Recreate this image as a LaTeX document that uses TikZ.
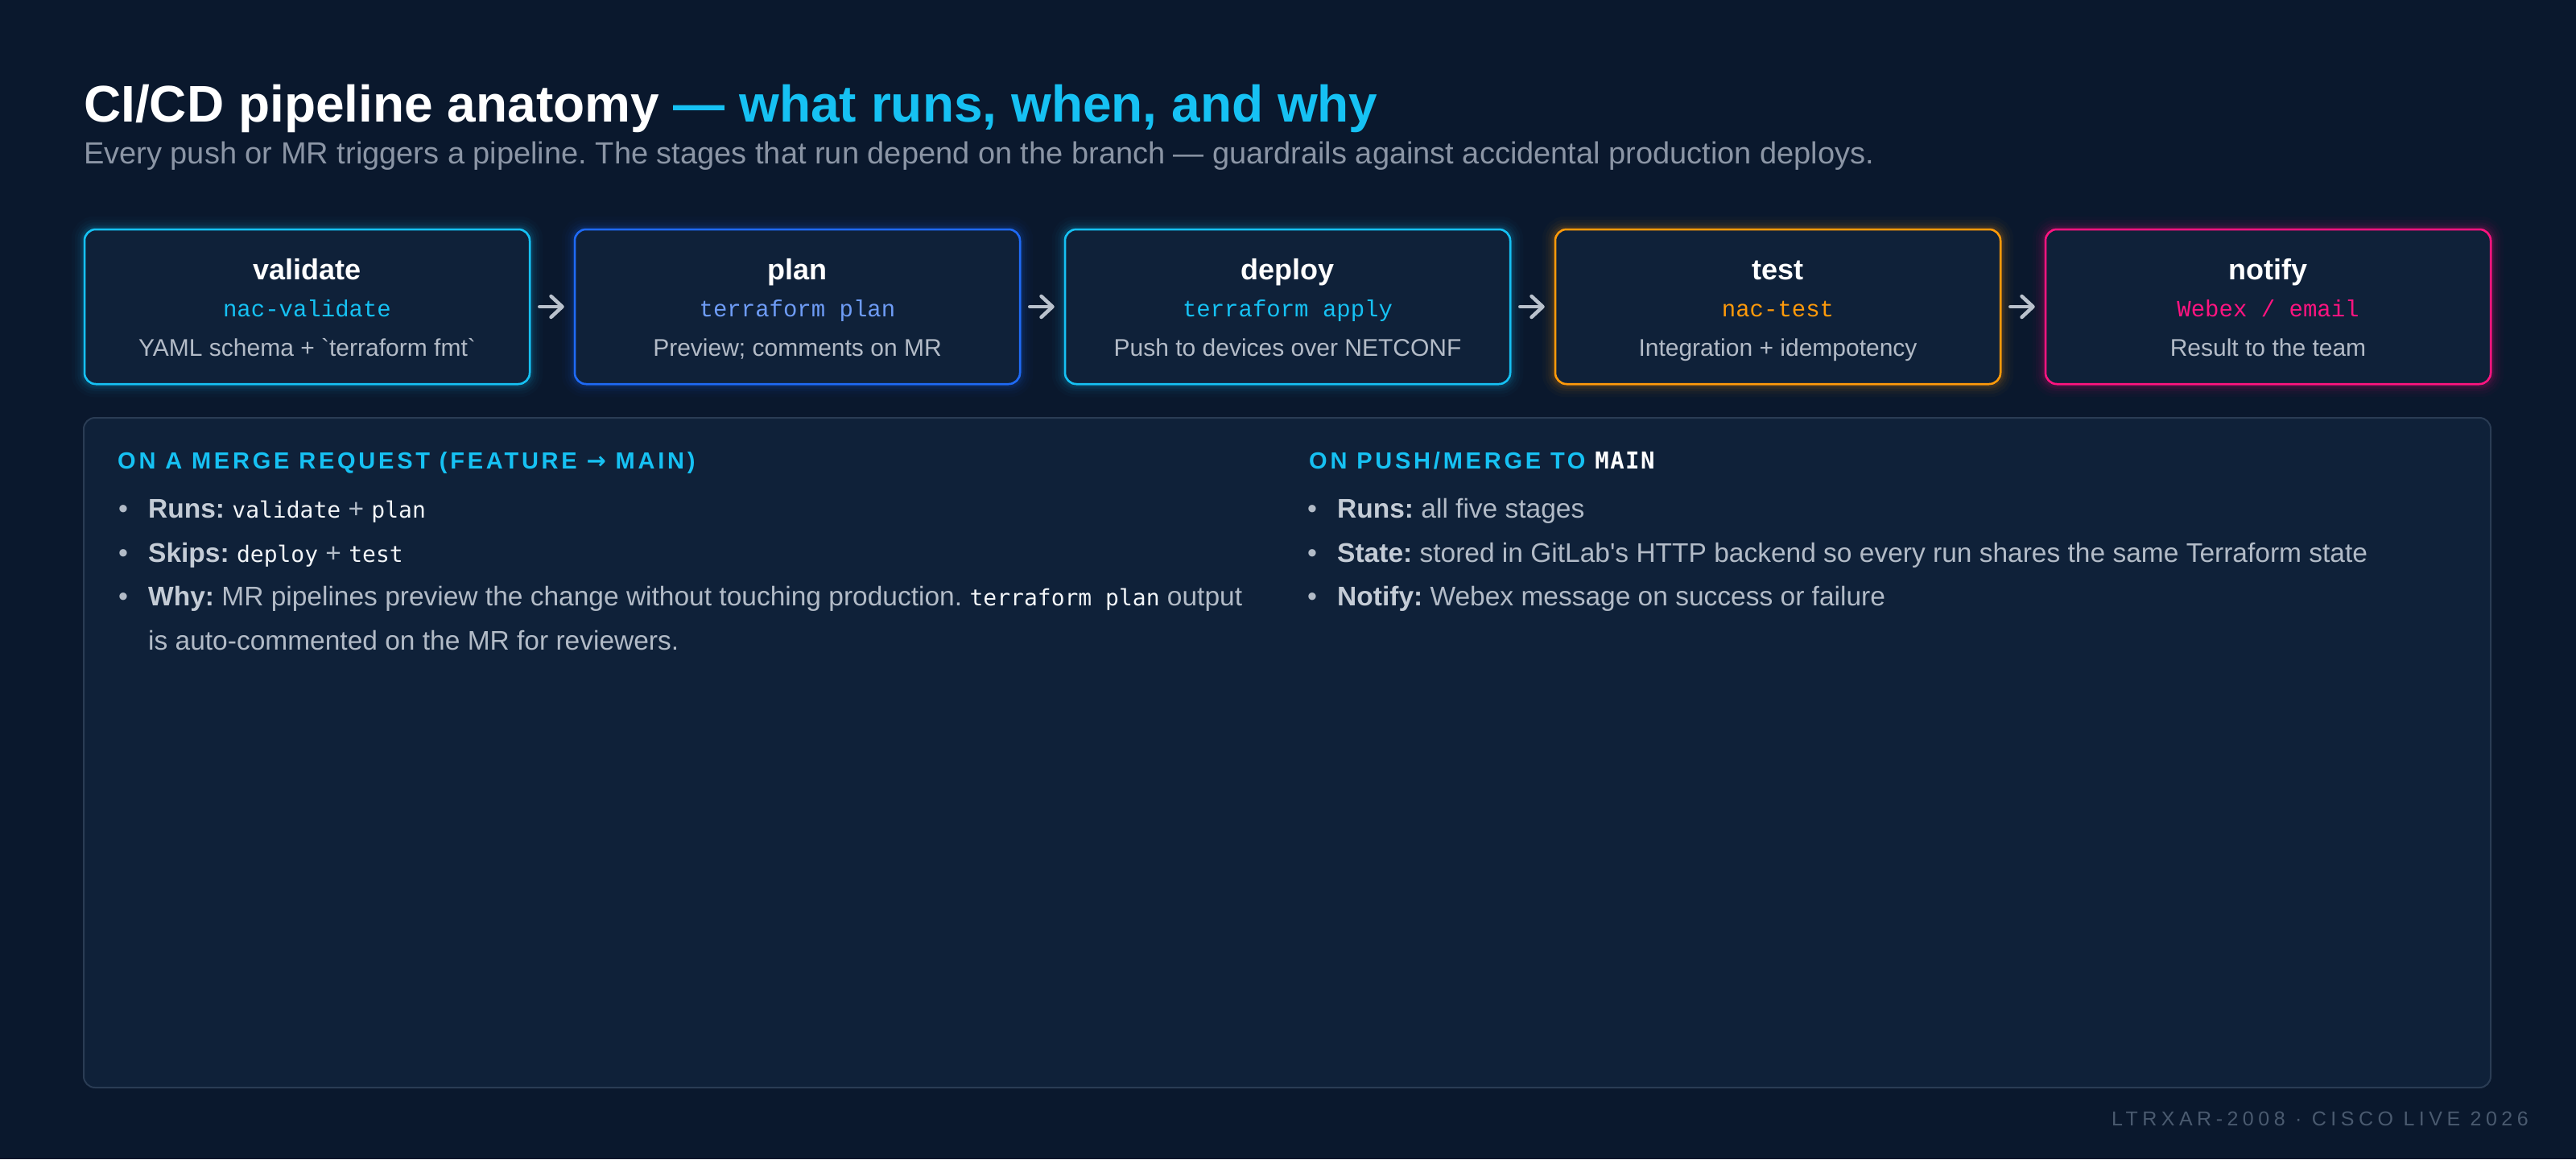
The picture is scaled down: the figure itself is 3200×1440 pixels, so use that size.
\documentclass[tikz,border=0pt]{standalone}
\usepackage{fontspec}
\setmainfont{Liberation Sans}[Ligatures=TeXOff]
\newfontfamily\boxmono{Liberation Mono}[Ligatures=TeXOff]
\newfontfamily\bodymono{DejaVu Sans Mono}[Ligatures=TeXOff]
\newfontfamily\headfont{Liberation Sans}[LetterSpace=13,Ligatures=TeXOff]
\newfontfamily\headmono{DejaVu Sans Mono}[LetterSpace=5,Ligatures=TeXOff]
\newfontfamily\arrowfont{DejaVu Sans}
\newfontfamily\footfont{Liberation Sans}[LetterSpace=22,Ligatures=TeXOff]
\usetikzlibrary{arrows.meta}
\frenchspacing

\definecolor{bg}{HTML}{0A182D}
\definecolor{card}{HTML}{0F2139}
\definecolor{panelline}{HTML}{2A3C54}
\definecolor{cyanA}{HTML}{16C1F3}
\definecolor{blueA}{HTML}{1F6AF5}
\definecolor{blueB}{HTML}{6E9CF6}
\definecolor{orangeA}{HTML}{FF9A0A}
\definecolor{pinkA}{HTML}{FF1480}
\definecolor{subgray}{HTML}{8B95A5}
\definecolor{descgray}{HTML}{B3BBC7}
\definecolor{bodygray}{HTML}{B2BBC7}
\definecolor{labelgray}{HTML}{C4CCD6}
\definecolor{codewhite}{HTML}{F2F5F8}
\definecolor{arrowgray}{HTML}{B9C1CC}
\definecolor{footgray}{HTML}{4A5A6F}

% inline code inside the bullet lists
\newcommand{\bcode}[1]{{\bodymono\fontsize{28}{55}\selectfont\color{codewhite}#1}}
\newcommand{\blabel}[1]{{\bfseries\color{labelgray}#1}}

\tikzset{
  stagebox/.style={draw=#1, line width=2.5pt, fill=card, rounded corners=14pt,
    minimum width=553pt, minimum height=192pt, inner sep=0pt},
  stagetitle/.style={anchor=base, text=white, inner sep=0pt,
    font=\bfseries\fontsize{36}{40}\selectfont},
  stagecode/.style={anchor=base, text=#1, inner sep=0pt,
    font=\boxmono\fontsize{29}{34}\selectfont},
  stagedesc/.style={anchor=base, text=descgray, inner sep=0pt,
    font=\fontsize{30}{34}\selectfont},
  flow/.style={draw=arrowgray, line width=4.5pt, line cap=round,
    -{Straight Barb[length=14pt,width=26pt,round]},
    shorten <=11pt, shorten >=12pt},
  heading/.style={anchor=base west, inner sep=0pt, text=cyanA,
    font=\headfont\bfseries\fontsize{29}{34}\selectfont},
  bodyline/.style={anchor=base west, inner sep=0pt, text=bodygray,
    font=\fontsize{33.5}{55}\selectfont},
  bulletdot/.style={anchor=base, inner sep=0pt, text=bodygray,
    font=\fontsize{34}{55}\selectfont},
}

% soft coloured halo behind a stage card
\newcommand{\halo}[2]{%
  \foreach \w/\o in {30/0.025,22/0.035,15/0.045,9/0.06,5/0.07}{
    \draw[#2, line width=\w pt, opacity=\o, rounded corners=14pt]
      (#1.south west) rectangle (#1.north east);
  }%
}

\begin{document}
\begin{tikzpicture}[x=1pt, y=-1pt]
  \useasboundingbox (0,0) rectangle (3200,1440);
  \fill[bg] (0,0) rectangle (3200,1440);

  % heading
  \node[anchor=base west, inner sep=0pt, text=white,
        font=\bfseries\fontsize{64}{70}\selectfont] (title) at (104,151)
    {CI/CD pipeline anatomy \textcolor{cyanA}{— what runs, when, and why}};
  \node[anchor=base west, inner sep=0pt, text=subgray,
        font=\fontsize{38}{44}\selectfont] (subtitle) at (104,203)
    {Every push or MR triggers a pipeline. The stages that run depend on the branch — guardrails against accidental production deploys.};

  % pipeline stages
  \coordinate (p1) at (381.5,381);
  \coordinate (p2) at (990.5,381);
  \coordinate (p3) at (1599.5,381);
  \coordinate (p4) at (2208.5,381);
  \coordinate (p5) at (2817.5,381);

  \node[stagebox=cyanA]   (s1) at (p1) {};
  \node[stagebox=blueA]   (s2) at (p2) {};
  \node[stagebox=cyanA]   (s3) at (p3) {};
  \node[stagebox=orangeA] (s4) at (p4) {};
  \node[stagebox=pinkA]   (s5) at (p5) {};

  \halo{s1}{cyanA}
  \halo{s2}{blueA}
  \halo{s3}{cyanA}
  \halo{s4}{orangeA}
  \halo{s5}{pinkA}

  % cards again on top of their halos
  \node[stagebox=cyanA]   at (p1) {};
  \node[stagebox=blueA]   at (p2) {};
  \node[stagebox=cyanA]   at (p3) {};
  \node[stagebox=orangeA] at (p4) {};
  \node[stagebox=pinkA]   at (p5) {};

  \node[stagetitle] (t1) at (381.5,347)  {validate};
  \node[stagetitle] (t2) at (990.5,347)  {plan};
  \node[stagetitle] (t3) at (1599.5,347) {deploy};
  \node[stagetitle] (t4) at (2208.5,347) {test};
  \node[stagetitle] (t5) at (2817.5,347) {notify};

  \node[stagecode=cyanA]   (c1) at (381.5,393)  {nac-validate};
  \node[stagecode=blueB]   (c2) at (990.5,393)  {terraform plan};
  \node[stagecode=cyanA]   (c3) at (1599.5,393) {terraform apply};
  \node[stagecode=orangeA] (c4) at (2208.5,393) {nac-test};
  \node[stagecode=pinkA]   (c5) at (2817.5,393) {Webex / email};

  \node[stagedesc] (d1) at (381.5,442)  {YAML schema + `terraform fmt`};
  \node[stagedesc] (d2) at (990.5,442)  {Preview; comments on MR};
  \node[stagedesc] (d3) at (1599.5,442) {Push to devices over NETCONF};
  \node[stagedesc] (d4) at (2208.5,442) {Integration + idempotency};
  \node[stagedesc] (d5) at (2817.5,442) {Result to the team};

  \draw[flow] (s1.east) -- (s2.west);
  \draw[flow] (s2.east) -- (s3.west);
  \draw[flow] (s3.east) -- (s4.west);
  \draw[flow] (s4.east) -- (s5.west);

  % branch rules panel
  \node[draw=panelline, line width=2pt, fill=card, rounded corners=14pt,
        minimum width=2990pt, minimum height=832pt, inner sep=0pt]
    (panel) at (1599,935) {};

  % merge request column
  \node[heading] (hmr) at (146,582)
    {ON A MERGE REQUEST (FEATURE {\arrowfont\bfseries →} MAIN)};
  \node[bulletdot] (b1) at (153,643) {•};
  \node[bulletdot] (b2) at (153,698) {•};
  \node[bulletdot] (b3) at (153,752) {•};
  \node[bodyline] (l1) at (184,643) {\blabel{Runs:} \bcode{validate} + \bcode{plan}};
  \node[bodyline] (l2) at (184,698) {\blabel{Skips:} \bcode{deploy} + \bcode{test}};
  \node[bodyline] (l3) at (184,752) {\blabel{Why:} MR pipelines preview the change without touching production. \bcode{terraform plan} output};
  \node[bodyline] (l4) at (184,807) {is auto-commented on the MR for reviewers.};

  % main branch column
  \node[heading] (hmain) at (1626,582) {ON PUSH/MERGE TO {\headmono\bfseries\color{white}MAIN}};
  \node[bulletdot] (r1) at (1630,643) {•};
  \node[bulletdot] (r2) at (1630,698) {•};
  \node[bulletdot] (r3) at (1630,752) {•};
  \node[bodyline] (m1) at (1661,643) {\blabel{Runs:} all five stages};
  \node[bodyline] (m2) at (1661,698) {\blabel{State:} stored in GitLab's HTTP backend so every run shares the same Terraform state};
  \node[bodyline] (m3) at (1661,752) {\blabel{Notify:} Webex message on success or failure};

  % footer
  \node[anchor=base east, inner sep=0pt, text=footgray,
        font=\footfont\fontsize{25}{30}\selectfont] (foot) at (3141,1398)
    {LTRXAR-2008 · CISCO LIVE 2026};
\end{tikzpicture}
\end{document}
